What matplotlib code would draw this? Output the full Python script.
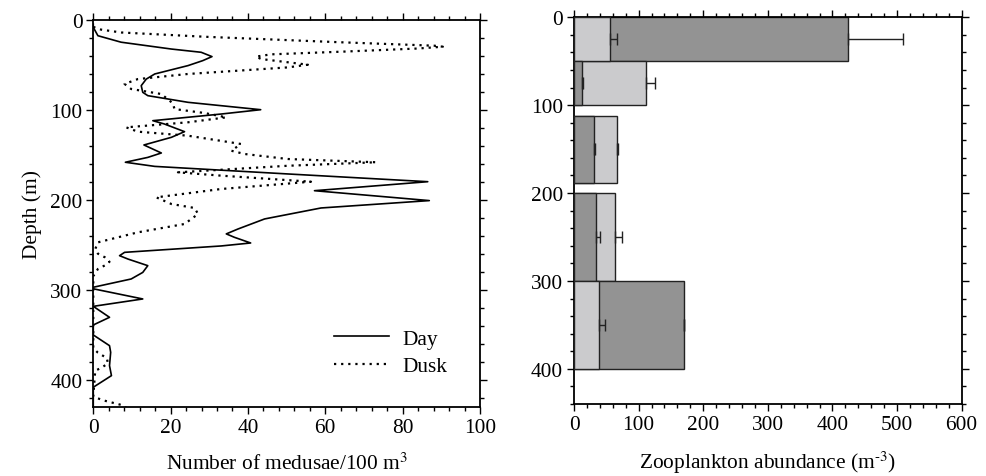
import matplotlib
matplotlib.use("Agg")
import matplotlib.pyplot as plt
from matplotlib.ticker import MultipleLocator

plt.rcParams['font.family'] = ['Liberation Serif', 'DejaVu Serif']
plt.rcParams['mathtext.fontset'] = 'stix'

# ---- Left panel: medusae profiles (depth m, number / 100 m^3) ----
day_depth = [5, 8.5, 17.8, 25, 32.6, 36.2, 41, 45.5, 51, 60.3, 66, 73.3, 80.7, 84.4, 91.8,
             100, 104.8, 112.2, 115.9, 124.4, 130.7, 139.2, 148.1, 153, 158.4, 163, 171.4,
             180, 190, 201, 209.2, 221.4, 232.6, 238, 241.8, 248.1, 251.4, 258.5, 262.2,
             266, 273.3, 280.8, 288.1, 297.3, 299, 310.3, 318.5, 330.7, 339.2, 350.3,
             362.2, 369.6, 384.4, 395.5, 408.4, 431]
day_vals = [0, 0, 1.2, 7.2, 20.2, 27.9, 30.7, 28.3, 24.5, 15.9, 13.7, 12.4, 12.8, 14.1, 24.5,
            43.3, 33.1, 15.4, 18.4, 23.6, 20.2, 13.1, 17.6, 14.1, 8.3, 15.9, 50.3,
            86.5, 57.2, 86.9, 58.9, 44.3, 37.4, 34.4, 36.5, 40.7, 33.1, 8.1, 6.8,
            9.0, 14.1, 12.8, 9.8, 0, 0, 12.8, 0, 4.2, 0, 0,
            4.2, 4.5, 4.2, 4.7, 0, 0]

dusk_depth = [8, 11, 14.2, 19, 25, 28.9, 30, 32, 35.4, 38.5, 41, 43.7, 50, 53, 60.3, 66,
              71.4, 77, 82.6, 93, 99.3, 103.7, 108.5, 114, 119.6, 124.4, 128.9, 138.1,
              145.6, 149.2, 154.8, 158.4, 162.3, 169.6, 173.3, 180, 188.1, 197.4, 204.8,
              209.2, 215.9, 227, 236.3, 247.4, 255, 260, 264, 269, 273, 277, 285, 365,
              370, 376, 382, 387, 390, 419, 423.3, 428, 431]
dusk_vals = [0, 2, 7.2, 29.1, 63.5, 88.2, 90.4, 84, 65, 46, 42.1, 43.4, 55.5, 50.3, 24.5, 11.5,
             8.1, 9.8, 17.6, 20.6, 21, 28.8, 34.4, 24.5, 8.5, 11.5, 24.5, 38.2,
             35.7, 39.1, 50.3, 73.1, 50.3, 21.9, 33.1, 56.3, 33.1, 16.3, 20.2,
             26.2, 27.1, 23.6, 11.5, 1.2, 0.5, 1.2, 3.0, 4.2, 3.0, 1.2, 0, 0,
             1.2, 3.5, 3.8, 2.0, 0.5, 0, 2.9, 7.2, 8.5]

# ---- Right panel: zooplankton abundance by layer ----
layer_top = [0, 50, 112, 200, 300]
layer_bottom = [50, 100, 188, 300, 400]
dark_vals = [424, 13, 31, 34, 170]
dark_err = [85, 1.5, 1.5, 6, 0.8]
light_vals = [56, 112, 67, 63, 38]
light_err = [10, 14, 0.8, 11, 10]

dark_color = '#939393'
light_color = '#cbcbcd'

fig = plt.figure(figsize=(9.87, 4.77), dpi=100)
ax1 = fig.add_axes([0.0945, 0.144, 0.3918, 0.8126])
ax2 = fig.add_axes([0.5816, 0.151, 0.3927, 0.8106])

FS = 15.4

def style_axis(ax):
    for s in ax.spines.values():
        s.set_linewidth(1.3)
    ax.tick_params(which='both', direction='out', top=True, right=True,
                   width=1.0, labelsize=FS)
    ax.tick_params(which='major', length=4.8, pad=3)
    ax.tick_params(which='minor', length=2.9)

# Left
ax1.plot(day_vals, day_depth, color='black', lw=1.2, label='Day')
ax1.plot(dusk_vals, dusk_depth, color='black', lw=1.6, linestyle=(0, (1, 2.2)), label='Dusk')
ax1.set_xlim(0, 100)
ax1.set_ylim(430.7, 0)
ax1.xaxis.set_major_locator(MultipleLocator(20))
ax1.xaxis.set_minor_locator(MultipleLocator(4))
ax1.yaxis.set_major_locator(MultipleLocator(100))
ax1.yaxis.set_minor_locator(MultipleLocator(20))
style_axis(ax1)
ax1.set_xlabel('Number of medusae/100 m$^3$', fontsize=FS, labelpad=11)
ax1.set_ylabel('Depth (m)', fontsize=FS, labelpad=6)
leg = ax1.legend(loc='lower right', bbox_to_anchor=(0.965, 0.03), frameon=False,
                 fontsize=FS, handlelength=2.6, handletextpad=0.6, labelspacing=0.35)

# Right
for i in range(len(layer_top)):
    center = (layer_top[i] + layer_bottom[i]) / 2.0
    h = layer_bottom[i] - layer_top[i]
    zd = 2 if dark_vals[i] > light_vals[i] else 3
    zl = 5 - zd
    ax2.barh(center, dark_vals[i], height=h, left=0, color=dark_color,
             edgecolor='#222222', linewidth=1.0, zorder=zd)
    ax2.barh(center, light_vals[i], height=h, left=0, color=light_color,
             edgecolor='#222222', linewidth=1.0, zorder=zl)
    ax2.errorbar(dark_vals[i], center, xerr=[[0], [dark_err[i]]], fmt='none',
                 ecolor='#222222', elinewidth=1.0, capsize=4.3, capthick=1.0, zorder=6)
    ax2.errorbar(light_vals[i], center, xerr=[[0], [light_err[i]]], fmt='none',
                 ecolor='#222222', elinewidth=1.0, capsize=4.3, capthick=1.0, zorder=6)

ax2.set_xlim(0, 600)
ax2.set_ylim(440, 0)
ax2.xaxis.set_major_locator(MultipleLocator(100))
ax2.xaxis.set_minor_locator(MultipleLocator(20))
ax2.yaxis.set_major_locator(MultipleLocator(100))
ax2.yaxis.set_minor_locator(MultipleLocator(20))
style_axis(ax2)
ax2.set_xlabel('Zooplankton abundance (m$^{\\text{-}3}$)', fontsize=FS, labelpad=11)

fig.savefig('out.png', dpi=100)
